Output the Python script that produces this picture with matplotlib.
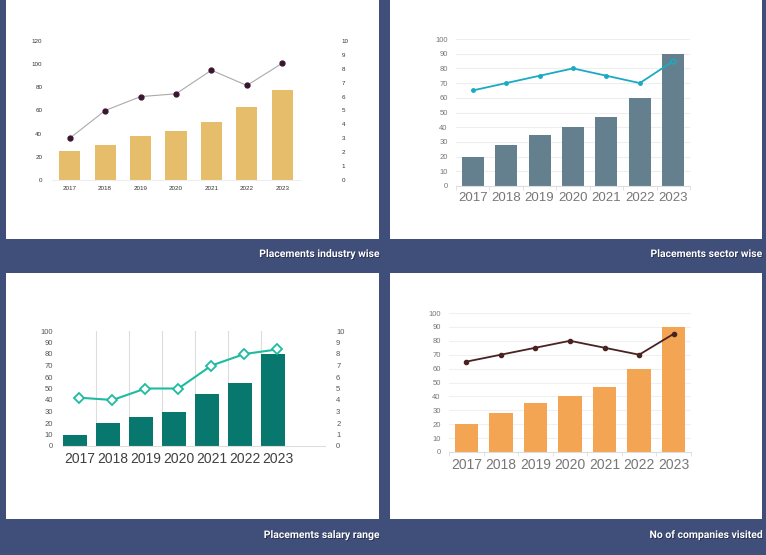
import matplotlib
matplotlib.use("Agg")
import matplotlib.pyplot as plt
from matplotlib.patches import Rectangle
import matplotlib.patheffects as pe
import numpy as np

years = ["2017", "2018", "2019", "2020", "2021", "2022", "2023"]

industry_bars = [25, 30, 38, 42, 50, 63, 78]
industry_line = [3.0, 5.0, 6.0, 6.2, 7.9, 6.8, 8.4]

sector_bars = [20, 28, 35, 40, 47, 60, 90]
sector_line = [65, 70, 75, 80, 75, 70, 85]

salary_bars = [10, 20, 25, 30, 45, 55, 80]
salary_line = [4.2, 4.0, 5.0, 5.0, 7.0, 8.0, 8.4]

company_bars = [20, 28, 35, 40, 47, 60, 90]
company_line = [65, 70, 75, 80, 75, 70, 85]

captions = ["Placements industry wise", "Placements sector wise",
            "Placements salary range", "No of companies visited"]

W, H = 766, 555
BG = "#404f79"

plt.rcParams['font.family'] = ['Liberation Sans', 'DejaVu Sans']
fig = plt.figure(figsize=(W / 100, H / 100), dpi=100)
fig.patch.set_facecolor(BG)


def box(x0, y0, x1, y1):
    return [x0 / W, 1 - y1 / H, (x1 - x0) / W, (y1 - y0) / H]


# white panels
panels = [(6, 0, 379, 239), (390, 0, 762, 239), (6, 273, 379, 519), (390, 273, 762, 519)]
for (x0, y0, x1, y1) in panels:
    fig.patches.append(Rectangle((x0 / W, 1 - y1 / H), (x1 - x0) / W, (y1 - y0) / H,
                                 transform=fig.transFigure, facecolor="white",
                                 edgecolor="none", zorder=-5))

cap_pos = [(379, 254), (762, 254), (379, 535), (762, 535)]
for (cx, cy), txt in zip(cap_pos, captions):
    fig.text(cx / W, 1 - cy / H, txt, ha="right", va="center", color="white",
             fontsize=7.5, fontweight="bold", fontstyle="normal", family=["Roboto", "DejaVu Sans"],
             path_effects=[pe.withSimplePatchShadow(offset=(0.6, -0.6), shadow_rgbFace="#1a2240", alpha=0.8)])

x = np.arange(len(years))


def clean(ax):
    ax.set_facecolor("white")
    for s in ax.spines.values():
        s.set_visible(False)


# ---- chart 1: industry wise ----
ax1 = fig.add_axes(box(52, 41, 300, 180))
ax1.bar(x, industry_bars, width=0.6, color="#e6bd6b", zorder=2)
ax1.set_ylim(0, 120)
ax1.set_xlim(-0.5, 6.5)
ax1.set_yticks(range(0, 121, 20))
ax1.set_xticks(x)
ax1.set_xticklabels(years)
clean(ax1)
ax1.spines["bottom"].set_visible(True)
ax1.spines["bottom"].set_color("#eeeeee")
ax1.tick_params(length=0, labelsize=4.5, colors="#333333", pad=7)
ax1.tick_params(axis="x", pad=4)
ax1b = ax1.twinx()
ax1b.plot(x, industry_line, color="#aaaaaa", lw=0.8, marker="o", markersize=3.5,
          markerfacecolor="#3b1430", markeredgecolor="#3b1430", zorder=3)
ax1b.set_ylim(0, 10)
ax1b.set_yticks(range(0, 11))
clean(ax1b)
ax1b.patch.set_visible(False)
ax1b.tick_params(length=0, labelsize=4.5, colors="#333333", pad=30)

# ---- chart 2: sector wise ----
ax2 = fig.add_axes(box(456, 39, 690, 186))
ax2.bar(x, sector_bars, width=0.66, color="#64808f", zorder=2)
ax2.plot(x[:-1], sector_line[:-1], color="#1aaac4", lw=1.3, marker="o", markersize=2.5, zorder=3)
ax2.plot(x[-2:], sector_line[-2:], color="#1aaac4", lw=1.3, zorder=3)
ax2.plot(x[-1], sector_line[-1], marker="o", markersize=3.5, markerfacecolor="#64808f",
         markeredgecolor="#1aaac4", markeredgewidth=1, zorder=4)
ax2.set_ylim(0, 100)
ax2.set_xlim(-0.5, 6.5)
ax2.set_yticks(range(0, 101, 10))
ax2.set_xticks(x)
ax2.set_xticklabels(years)
ax2.set_xticks(np.arange(-0.5, 7, 1), minor=True)
ax2.grid(axis="y", color="#eeeeee", lw=0.8, zorder=0)
clean(ax2)
ax2.spines["bottom"].set_visible(True)
ax2.spines["bottom"].set_color("#dddddd")
ax2.tick_params(axis="y", length=0, labelsize=5.5, colors="#777777", pad=6)
ax2.tick_params(axis="x", which="major", length=0, labelsize=9.5, colors="#777777", pad=4)
ax2.tick_params(axis="x", which="minor", length=3, color="#dddddd")

# ---- chart 3: salary range ----
ax3 = fig.add_axes(box(63, 331, 325, 446))
ax3.bar(x - 0.13, salary_bars, width=0.74, color="#08786f", zorder=2)
ax3.set_ylim(0, 100)
ax3.set_xlim(-0.5, 7.44)
ax3.set_yticks(range(0, 101, 10))
ax3.set_xticks(x)
ax3.set_xticklabels(years)
for b in np.arange(0.5, 6, 1):
    ax3.axvline(b, color="#dddddd", lw=0.8, zorder=0)
clean(ax3)
ax3.spines["bottom"].set_visible(True)
ax3.spines["bottom"].set_color("#dddddd")
ax3.tick_params(axis="y", length=0, labelsize=5.5, colors="#555555", pad=7)
ax3.tick_params(axis="x", length=0, labelsize=10, colors="#404040", pad=4)
ax3b = ax3.twinx()
ax3b.plot(x, salary_line, color="#1fbba0", lw=1.5, marker="D", markersize=5,
          markerfacecolor="white", markeredgecolor="#1fbba0", markeredgewidth=1.3, zorder=3)
ax3b.set_ylim(0, 10)
ax3b.set_yticks(range(0, 11))
clean(ax3b)
ax3b.patch.set_visible(False)
ax3b.tick_params(length=0, labelsize=5.5, colors="#555555", pad=8)

# ---- chart 4: companies visited ----
ax4 = fig.add_axes(box(449, 313, 691, 452))
ax4.bar(x, company_bars, width=0.68, color="#f3a553", zorder=2)
ax4.plot(x, company_line, color="#4a2222", lw=1.3, marker="o", markersize=3, zorder=3)
ax4.set_ylim(0, 100)
ax4.set_xlim(-0.5, 6.5)
ax4.set_yticks(range(0, 101, 10))
ax4.set_xticks(x)
ax4.set_xticklabels(years)
ax4.set_xticks(np.arange(-0.5, 7, 1), minor=True)
ax4.grid(axis="y", color="#f0f0f0", lw=0.8, zorder=0)
clean(ax4)
ax4.spines["bottom"].set_visible(True)
ax4.spines["bottom"].set_color("#dddddd")
ax4.tick_params(axis="y", length=0, labelsize=5.5, colors="#777777", pad=6)
ax4.tick_params(axis="x", which="major", length=0, labelsize=10, colors="#777777", pad=4)
ax4.tick_params(axis="x", which="minor", length=3, color="#dddddd")

fig.savefig("out.png", dpi=100, facecolor=BG)
